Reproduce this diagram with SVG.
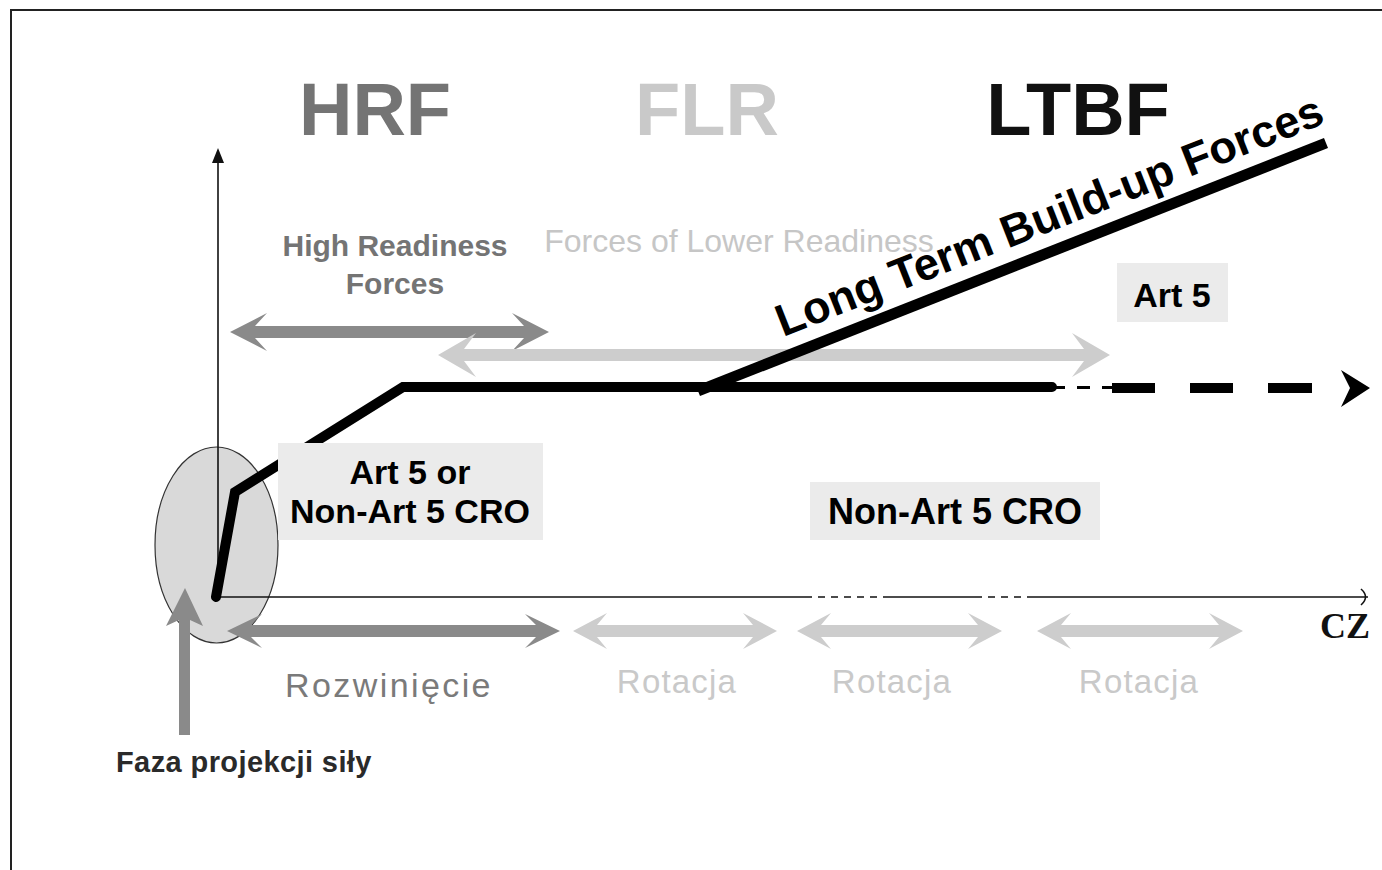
<svg xmlns="http://www.w3.org/2000/svg" width="1382" height="870" viewBox="0 0 1382 870">
  <style>
    .sans { font-family: "Liberation Sans", Arial, sans-serif; }
    .b { font-weight: bold; }
    .title { font-size: 74px; font-weight: bold; text-anchor: middle; }
    .dark { fill: #747474; }
    .light { fill: #c9c9c9; }
    .blk { fill: #111; }
    .arrDark { fill: #8a8a8a; }
    .arrLight { fill: #cdcdcd; }
    .box { fill: #ebebeb; }
    .axis { stroke: #111; stroke-width: 1.6; fill: none; }
    .route { stroke: #000; fill: none; }
  </style>

  <rect x="0" y="0" width="1382" height="870" fill="#fff"/>
  <!-- page frame (open to the right and bottom) -->
  <rect x="11" y="10" width="1420" height="920" fill="none" stroke="#222" stroke-width="2"/>

  <!-- headings -->
  <g id="headings" class="sans">
    <text class="title dark" x="375" y="135">HRF</text>
    <text class="title light" x="707" y="135">FLR</text>
    <text class="title blk" x="1078" y="135">LTBF</text>
  </g>

  <!-- force category labels -->
  <g id="hrf-label" class="sans b" font-size="30" text-anchor="middle" fill="#747474">
    <text x="395" y="256">High Readiness</text>
    <text x="395" y="294">Forces</text>
  </g>
  <g id="flr-label" class="sans" font-size="32" text-anchor="middle" fill="#c6c6c6">
    <text x="739" y="252">Forces of Lower Readiness</text>
  </g>

  <!-- projection phase ellipse -->
  <g id="projection-zone">
    <ellipse cx="216.5" cy="545" rx="61.5" ry="98" fill="#d9d9d9" stroke="#333" stroke-width="1.2"/>
  </g>

  <!-- axes -->
  <g id="axes">
    <line class="axis" x1="218" y1="598" x2="218" y2="158"/>
    <path d="M218,148 L212,163 L224,163 Z" fill="#111"/>
    <path class="axis" d="M215,597 H805"/>
    <path class="axis" d="M805,597 H885" stroke-dasharray="7 6"/>
    <path class="axis" d="M885,597 H975"/>
    <path class="axis" d="M975,597 H1030" stroke-dasharray="7 6"/>
    <path class="axis" d="M1030,597 H1368"/>
    <path class="axis" d="M1361,589 Q1370,597 1361,605"/>
  </g>
  <g id="cz-label">
    <text x="1345" y="638" font-family="Liberation Serif, 'Times New Roman', serif" font-weight="bold" font-size="36" text-anchor="middle" fill="#111">CZ</text>
  </g>

  <!-- readiness span arrows -->
  <g id="connectors">
    <!-- HRF span -->
    <path class="arrDark" d="M230,332 L267,313 L255,326 L524,326 L512,313 L549,332 L512,351 L524,338 L255,338 L267,351 Z"/>
    <!-- FLR span -->
    <path class="arrLight" d="M438,355 L476,333 L464,349 L1084,349 L1072,333 L1110,355 L1072,377 L1084,361 L464,361 L476,377 Z"/>
    <!-- deployment span -->
    <path class="arrDark" d="M227,631 L262,614 L251,625 L536,625 L525,614 L560,631 L525,648 L536,637 L251,637 L262,648 Z"/>
    <!-- rotation spans -->
    <path class="arrLight" d="M573,631 L607,613 L597,625 L753,625 L743,613 L777,631 L743,649 L753,637 L597,637 L607,649 Z"/>
    <path class="arrLight" d="M797,631 L831,613 L821,625 L978,625 L968,613 L1002,631 L968,649 L978,637 L821,637 L831,649 Z"/>
    <path class="arrLight" d="M1037,631 L1071,613 L1061,625 L1219,625 L1209,613 L1243,631 L1209,649 L1219,637 L1061,637 L1071,649 Z"/>
    <!-- force projection arrow -->
    <path class="arrDark" d="M185,588 L203,626 L190,620 L190,735 L179,735 L179,620 L166,626 Z"/>

    <!-- force build-up route -->
    <polyline class="route" points="216,597 235,492 403,387 1052,387" stroke-width="10" stroke-linecap="round" stroke-linejoin="miter"/>
    <line class="route" x1="1052" y1="387.5" x2="1112" y2="387.5" stroke-width="3" stroke-dasharray="13 12"/>
    <rect x="1112" y="383" width="43" height="10" fill="#000"/>
    <rect x="1190" y="383" width="43" height="10" fill="#000"/>
    <rect x="1268" y="383" width="44" height="10" fill="#000"/>
    <path d="M1370,388 L1341,370 L1350,388 L1341,407 Z" fill="#000"/>
    <!-- long term build-up branch -->
    <line class="route" x1="698" y1="391" x2="1326" y2="143" stroke-width="11"/>
  </g>

  <g id="ltbf-label">
    <text class="sans b" font-size="45" fill="#000" transform="translate(783,337) rotate(-21.5)">Long Term Build-up Forces</text>
  </g>

  <!-- mission boxes -->
  <g id="art5-box">
    <rect class="box" x="1117" y="263" width="111" height="59"/>
    <text class="sans b" font-size="34" text-anchor="middle" fill="#000" x="1172" y="307">Art 5</text>
  </g>
  <g id="mixed-cro-box">
    <rect class="box" x="278" y="443" width="265" height="97"/>
    <text class="sans b" font-size="34" text-anchor="middle" fill="#000" x="410" y="484">Art 5 or</text>
    <text class="sans b" font-size="34" text-anchor="middle" fill="#000" x="410" y="523">Non-Art 5 CRO</text>
  </g>
  <g id="non-art5-box">
    <rect class="box" x="810" y="482" width="290" height="58"/>
    <text class="sans b" font-size="36" text-anchor="middle" fill="#000" x="955" y="524">Non-Art 5 CRO</text>
  </g>

  <!-- phase labels -->
  <g id="phase-labels" class="sans" font-size="33">
    <text x="389" y="697" text-anchor="middle" fill="#7a7a7a" font-size="34" letter-spacing="2.4">Rozwinięcie</text>
    <text x="677" y="693" text-anchor="middle" fill="#c9c9c9" letter-spacing="1.2">Rotacja</text>
    <text x="892" y="693" text-anchor="middle" fill="#c9c9c9" letter-spacing="1.2">Rotacja</text>
    <text x="1139" y="693" text-anchor="middle" fill="#c9c9c9" letter-spacing="1.2">Rotacja</text>
  </g>
  <g id="projection-label">
    <text class="sans b" font-size="29" fill="#2a2a2a" x="116" y="772" letter-spacing="0.4">Faza projekcji siły</text>
  </g>
</svg>
